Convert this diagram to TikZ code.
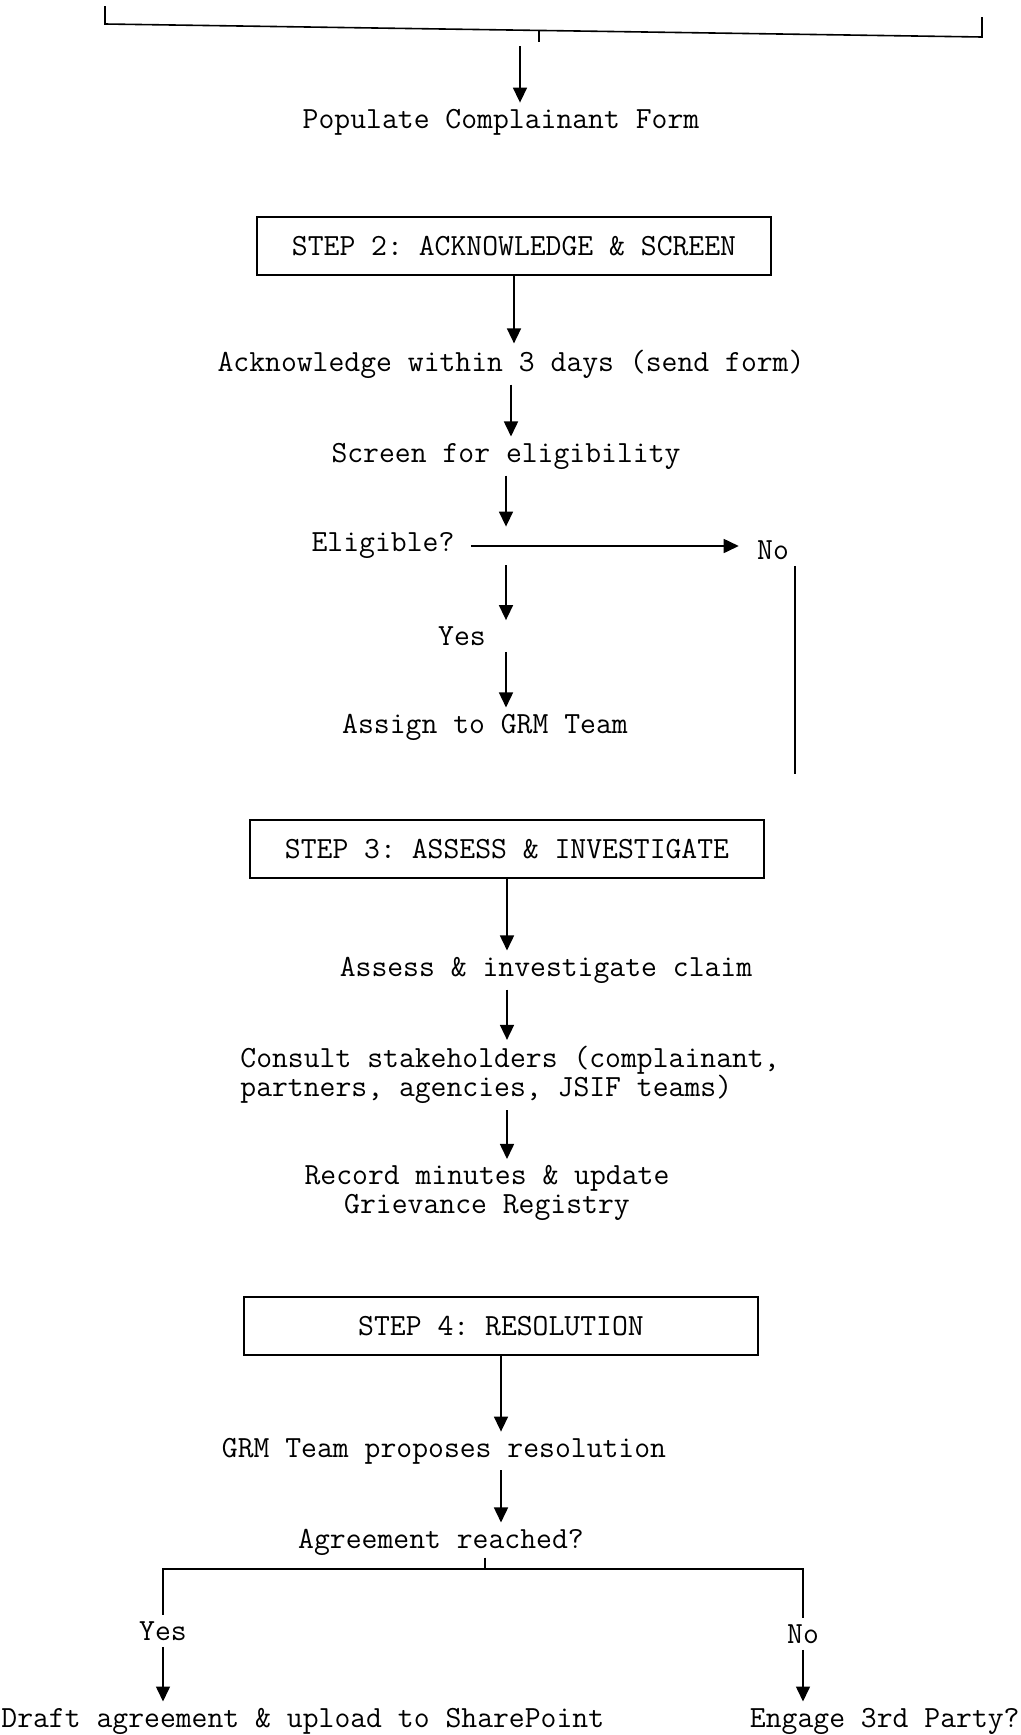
\documentclass[tikz,border=0pt]{standalone}
\usepackage{fontspec}
\usepackage{tikz}
\usetikzlibrary{arrows.meta}
\frenchspacing
\tikzstyle{txt}=[inner sep=0pt, font=\ttfamily\fontsize{15.4}{14.5}\selectfont]
\tikzstyle{stepbox}=[txt, draw, line width=0.8pt, minimum width=257pt, minimum height=29pt]
\tikzstyle{ln}=[line width=0.8pt]
\tikzstyle{arr}=[ln, -{Bar[width=0.8pt,sep=3pt] Triangle[length=7.5pt,width=7pt]}, shorten <=3pt, shorten >=3pt]

\begin{document}
\begin{tikzpicture}[x=0.5pt,y=-0.5pt]
\useasboundingbox (0,0) rectangle (1021,1735);
\coordinate (tick) at (539,31);
\coordinate (popin) at (520,46);
\coordinate (noend) at (795,774);
\coordinate (split) at (485,1569);
\node[txt] (pop) at (501,122) {Populate Complainant Form};
\node[stepbox] (s2) at (514,246) {STEP 2: ACKNOWLEDGE \& SCREEN};
\node[txt] (ack) at (511,364) {Acknowledge within 3 days (send form)};
\node[txt] (scr) at (506,456) {Screen for eligibility};
\node[txt] (elig) at (383,546) {Eligible?};
\node[txt] (no1) at (773,550) {No};
\node[txt] (yes1) at (462,636) {Yes};
\node[txt] (asg) at (485,727) {Assign to GRM Team};
\node[stepbox] (s3) at (507,849) {STEP 3: ASSESS \& INVESTIGATE};
\node[txt] (ass) at (546,970) {Assess \& investigate claim};
\node[txt, align=left, anchor=west] (cons) at (240,1075) {Consult stakeholders (complainant,\\partners, agencies, JSIF teams)};
\node[txt, align=center] (rec) at (487,1193) {Record minutes \& update\\Grievance Registry};
\node[stepbox] (s4) at (501,1326) {STEP 4: RESOLUTION};
\node[txt] (grm) at (444,1451) {GRM Team proposes resolution};
\node[txt] (agr) at (441,1542) {Agreement reached?};
\node[txt] (yes2) at (163,1631) {Yes};
\node[txt] (no2) at (803,1634) {No};
\node[txt, anchor=west] (draft) at (1,1721) {Draft agreement \& upload to SharePoint};
\node[txt, anchor=east] (eng) at (1020,1721) {Engage 3rd Party?};
\draw[ln] (105,6) -- (105,24) -- (982,37) -- (982,17);
\draw[ln] (tick) -- ++(0,11);
\draw[arr, shorten <=0pt] (popin) -- (popin |- pop.north);
\draw[arr, shorten <=0pt] (s2.south) -- (s2.south |- ack.north);
\draw[arr] (ack.south) -- (ack.south |- scr.north);
\draw[arr] (scr.south) -- (scr.south |- elig.north);
\draw[arr, shorten <=8pt, shorten >=9pt] (elig.east) -- (elig.east -| no1.west);
\draw[arr] (elig.south -| scr.south) -- (yes1.north -| scr.south);
\draw[arr] (yes1.south -| scr.south) -- (asg.north -| scr.south);
\draw[ln, shorten <=3pt] (no1.south -| noend) -- (noend);
\draw[arr, shorten <=0pt] (s3.south) -- (s3.south |- ass.north);
\draw[arr] (ass.south -| s3.south) -- (cons.north -| s3.south);
\draw[arr] (cons.south -| s3.south) -- (rec.north -| s3.south);
\draw[arr, shorten <=0pt] (s4.south) -- (s4.south |- grm.north);
\draw[arr] (grm.south -| s4.south) -- (agr.north -| s4.south);
\draw[ln, shorten <=1pt] (agr.south -| split) -- (split);
\draw[ln, shorten >=3pt] (split) -- (split -| yes2) -- (yes2.north);
\draw[ln, shorten >=3pt] (split) -- (split -| no2) -- (no2.north);
\draw[arr] (yes2.south) -- (yes2.south |- draft.north);
\draw[arr] (no2.south) -- (no2.south |- eng.north);
\end{tikzpicture}
\end{document}
